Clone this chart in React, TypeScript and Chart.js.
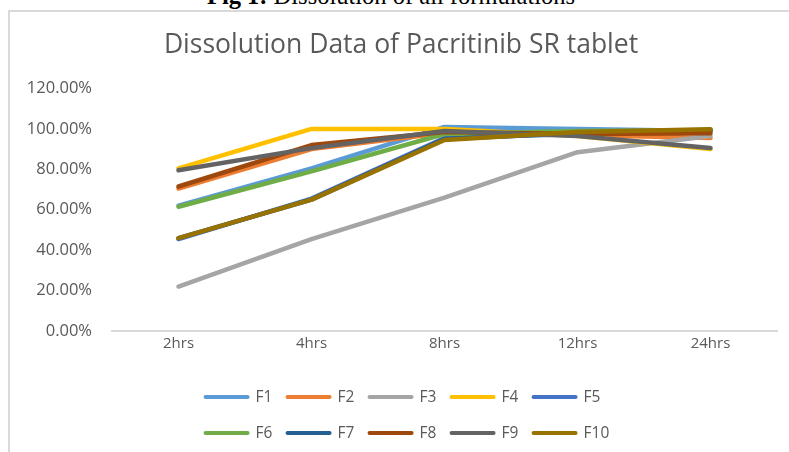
import React, { useEffect, useRef } from 'react';
import { Chart, registerables } from 'chart.js';

Chart.register(...registerables);

const categories = ['2hrs', '4hrs', '8hrs', '12hrs', '24hrs'];
const seriesNames = ['F1', 'F2', 'F3', 'F4', 'F5', 'F6', 'F7', 'F8', 'F9', 'F10'];

const F1 = [62, 80.5, 101, 100, 99];
const F2 = [70.5, 90, 98, 97, 95.5];
const F3 = [22, 45.5, 66, 88.5, 96.5];
const F4 = [80.5, 100, 100, 96.5, 90];
const F5 = [45.5, 65.5, 95.5, 97.5, 99];
const F6 = [61.5, 79, 97.5, 99, 99.5];
const F7 = [46, 65, 95, 98, 99.5];
const F8 = [71.5, 92, 98.5, 97.5, 97.8];
const F9 = [79.5, 90.5, 99, 96.5, 90.5];
const F10 = [46, 65, 94.5, 98.5, 99.8];

const seriesValues = [F1, F2, F3, F4, F5, F6, F7, F8, F9, F10];
const seriesColors = ['#5B9BD5', '#ED7D31', '#A5A5A5', '#FFC000', '#4472C4', '#70AD47', '#255E91', '#9E480E', '#636363', '#997300'];

const yMin = 0;
const yMax = 120;
const yStep = 20;

const FONT = '"Open Sans", "DejaVu Sans", sans-serif';
const TEXT_COLOR = '#595959';

const legendPlugin = {
  id: 'gridLegend',
  afterDraw(chart: any) {
    const ctx = chart.ctx as CanvasRenderingContext2D;
    const datasets = chart.data.datasets;
    const cols = 5;
    const colW = 82;
    const lineLen = 42;
    const gap = 8;
    const fontSize = 15.5;
    ctx.save();
    ctx.font = `${fontSize}px ${FONT}`;
    ctx.textBaseline = 'middle';
    ctx.textAlign = 'left';
    const lastW = lineLen + gap + ctx.measureText('F5').width;
    const totalW = (cols - 1) * colW + lastW;
    const x0 = chart.width / 2 - totalW / 2 + 2;
    const yBase = chart.chartArea.bottom + 66;
    datasets.forEach((ds: any, i: number) => {
      const col = i % cols;
      const row = Math.floor(i / cols);
      const x = x0 + col * colW;
      const y = yBase + row * 36;
      ctx.strokeStyle = ds.borderColor;
      ctx.lineWidth = 4;
      ctx.lineCap = 'round';
      ctx.beginPath();
      ctx.moveTo(x, y);
      ctx.lineTo(x + lineLen, y);
      ctx.stroke();
      ctx.fillStyle = TEXT_COLOR;
      ctx.fillText(ds.label, x + lineLen + gap, y + 1);
    });
    ctx.restore();
  },
};

export default function App() {
  const ref = useRef<HTMLCanvasElement>(null);

  useEffect(() => {
    if (!ref.current) return;
    const datasets = seriesNames.map((name, i) => ({
      label: name,
      data: seriesValues[i],
      borderColor: seriesColors[i],
      backgroundColor: seriesColors[i],
      borderWidth: 4.5,
      pointRadius: 0,
      pointHoverRadius: 0,
      tension: 0,
      borderCapStyle: 'round' as const,
      borderJoinStyle: 'round' as const,
      fill: false,
      order: seriesNames.length - i,
    }));
    const chart = new Chart(ref.current, {
      type: 'line',
      data: { labels: categories, datasets },
      plugins: [legendPlugin],
      options: {
        responsive: false,
        animation: false,
        devicePixelRatio: 1,
        layout: { padding: { left: 15, right: 15, top: 0, bottom: 82 } },
        plugins: {
          legend: { display: false },
          tooltip: { enabled: false },
          title: {
            display: true,
            text: 'Dissolution Data of Pacritinib SR tablet',
            color: TEXT_COLOR,
            font: { family: FONT, size: 26.5, weight: 'normal' },
            padding: { top: 17.2, bottom: 27.5 },
          },
        },
        scales: {
          x: {
            offset: true,
            grid: { display: false, drawTicks: false },
            border: { display: true, color: '#d9d9d9', width: 2 },
            ticks: { color: TEXT_COLOR, font: { family: FONT, size: 15 }, padding: 4 },
            afterFit: (s: any) => { s.height = 39; },
          },
          y: {
            min: yMin,
            max: yMax,
            grid: { display: false, drawTicks: false },
            border: { display: false },
            ticks: {
              stepSize: yStep,
              color: TEXT_COLOR,
              font: { family: FONT, size: 16.5 },
              padding: 20,
              callback: (v: any) => Number(v).toFixed(2) + '%',
            },
            afterFit: (s: any) => { s.width = 87; },
          },
        },
      },
    });
    return () => chart.destroy();
  }, []);

  return (
    <div style={{ position: 'fixed', left: 0, top: 0, width: 789, height: 452, overflow: 'hidden', background: '#fff' }}>
      <div
        style={{
          position: 'absolute', left: 0, top: -16, width: 782, textAlign: 'center',
          fontFamily: '"Liberation Serif", "Times New Roman", serif', fontSize: 24.5, lineHeight: '24px', color: '#000',
          whiteSpace: 'nowrap',
        }}
      >
        <b>Fig 1:</b> Dissolution of all formulations
      </div>
      <div
        style={{
          position: 'absolute', left: 8, top: 10, width: 800, height: 460,
          border: '2px solid #d9d9d9', boxSizing: 'border-box',
        }}
      />
      <div style={{ position: 'absolute', left: 10, top: 12, width: 782, height: 440 }}>
        <canvas ref={ref} width={782} height={440} style={{ display: 'block', width: 782, height: 440 }} />
      </div>
    </div>
  );
}
